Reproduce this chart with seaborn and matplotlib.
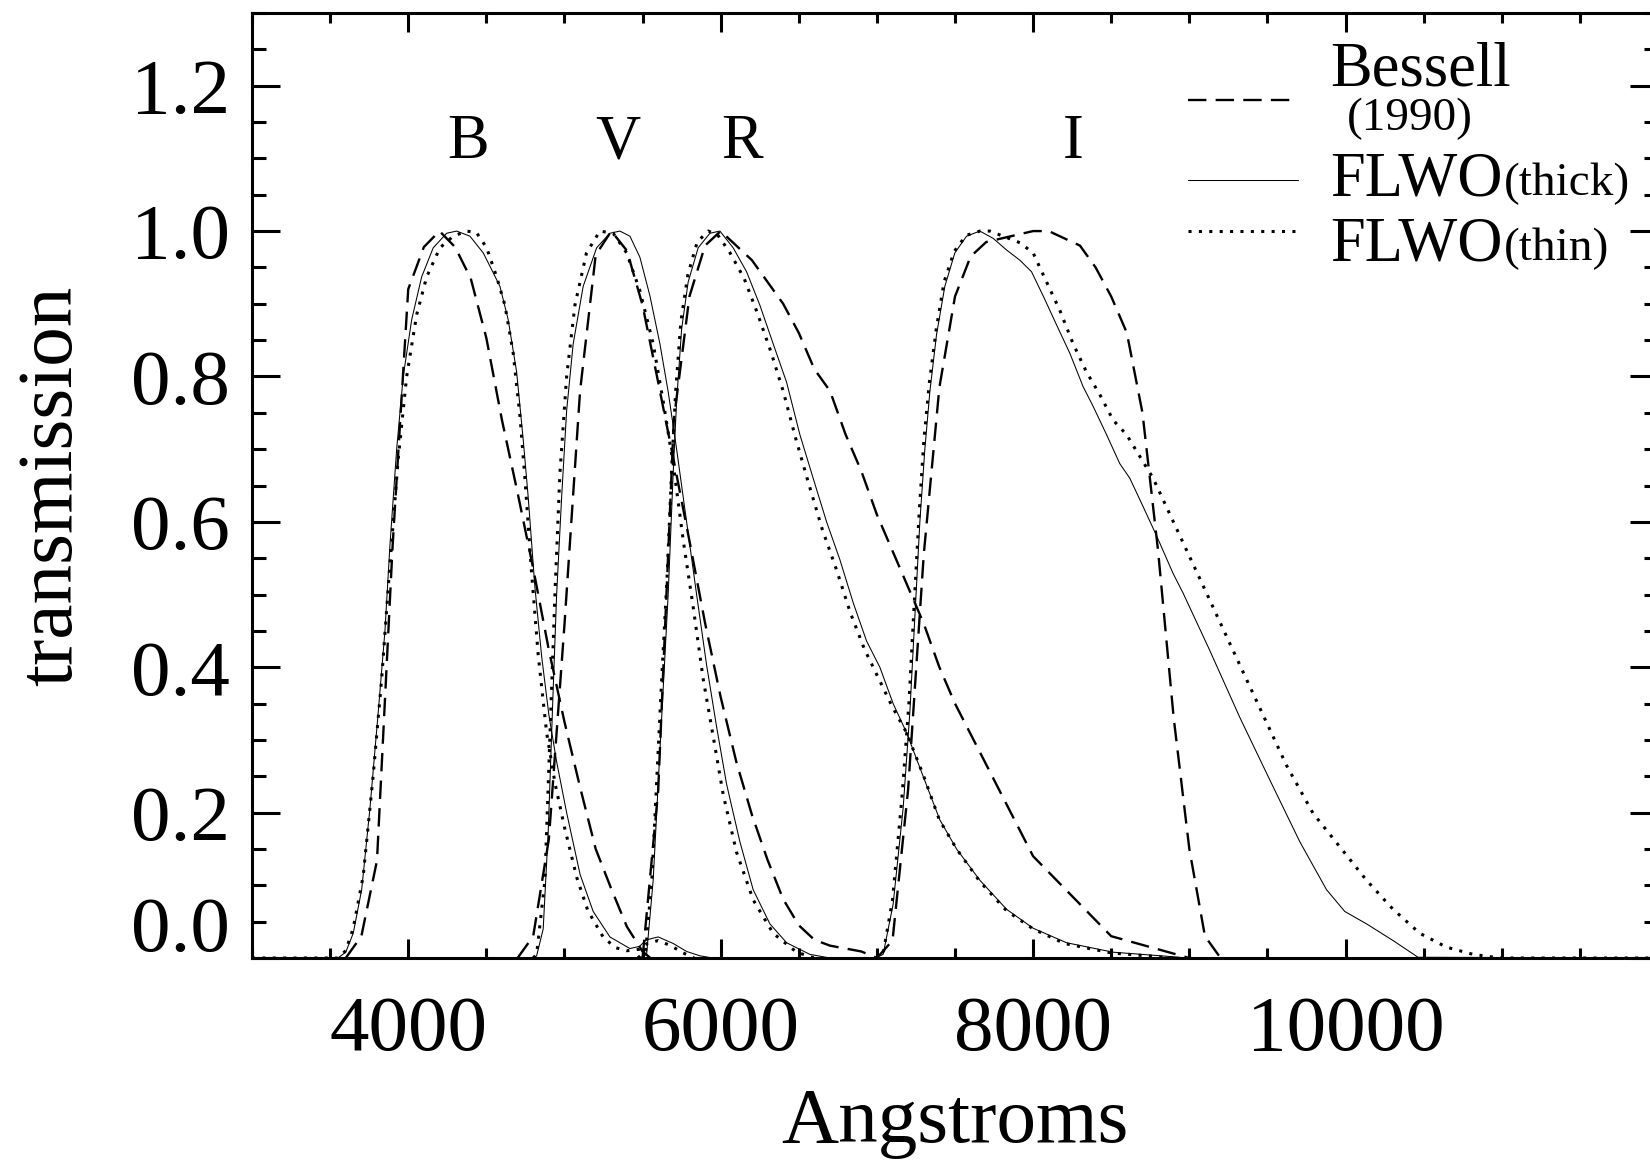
import numpy as np
import pandas as pd
import matplotlib
matplotlib.use("Agg")
import matplotlib.pyplot as plt
import matplotlib.transforms as mtransforms
from matplotlib.lines import Line2D
from matplotlib.ticker import MultipleLocator, FixedLocator, FixedFormatter
import seaborn as sns

# ---------------- data ----------------
# Bessell (1990) passbands (dashed)
bess_B_wl = [3600, 3700, 3800, 3900, 4000, 4100, 4200, 4300, 4400, 4500, 4600, 4700,
             4800, 4900, 5000, 5100, 5200, 5300, 5400, 5500, 5550]
bess_B_tr = [0.0, 0.03, 0.134, 0.567, 0.920, 0.978, 1.0, 0.978, 0.935, 0.853, 0.740, 0.640,
             0.536, 0.424, 0.325, 0.235, 0.150, 0.095, 0.043, 0.009, 0.0]

bess_V_wl = [4700, 4800, 4900, 5000, 5100, 5200, 5300, 5400, 5500, 5600, 5700, 5800,
             5900, 6000, 6100, 6200, 6300, 6400, 6500, 6600, 6700, 6800, 6900, 7000]
bess_V_tr = [0.0, 0.03, 0.163, 0.458, 0.78, 0.967, 1.0, 0.973, 0.898, 0.792, 0.684, 0.574,
             0.461, 0.359, 0.27, 0.197, 0.135, 0.081, 0.045, 0.025, 0.017, 0.013, 0.009, 0.0]

bess_R_wl = [5500, 5600, 5700, 5800, 5900, 6000, 6100, 6200, 6300, 6400, 6500, 6600,
             6700, 6800, 6900, 7000, 7100, 7200, 7300, 7400, 7500, 8000, 8500, 9000]
bess_R_tr = [0.0, 0.23, 0.74, 0.91, 0.98, 1.0, 0.98, 0.96, 0.93, 0.90, 0.86, 0.81,
             0.78, 0.72, 0.67, 0.61, 0.56, 0.51, 0.46, 0.40, 0.35, 0.14, 0.03, 0.0]

bess_I_wl = [7000, 7100, 7200, 7300, 7400, 7500, 7600, 7700, 7800, 7900, 8000, 8100,
             8200, 8300, 8400, 8500, 8600, 8700, 8800, 8900, 9000, 9100, 9200]
bess_I_tr = [0.0, 0.024, 0.232, 0.555, 0.785, 0.910, 0.965, 0.985, 0.990, 0.995, 1.0, 1.0,
             0.990, 0.980, 0.950, 0.910, 0.860, 0.750, 0.560, 0.330, 0.150, 0.030, 0.0]

# FLWO thick-CCD passbands (solid)
thick_B_wl = [3000, 3550, 3600, 3648, 3702, 3755, 3808, 3851, 3883, 3926, 3968, 4022, 4086,
              4160, 4246, 4310, 4395, 4480, 4534, 4587, 4640, 4694, 4736, 4768, 4811, 4854,
              4900, 4950, 5014, 5100, 5184, 5291, 5419, 5480, 5526, 5600, 5696, 5782, 5867, 5950]
thick_B_tr = [0.0, 0.0, 0.008, 0.034, 0.094, 0.206, 0.338, 0.45, 0.568, 0.70, 0.80, 0.878, 0.937,
              0.977, 0.997, 1.0, 0.993, 0.97, 0.947, 0.924, 0.878, 0.806, 0.713, 0.634, 0.51, 0.415,
              0.335, 0.27, 0.20, 0.115, 0.064, 0.029, 0.013, 0.016, 0.025, 0.029, 0.02, 0.009, 0.003, 0.0]

thick_V_wl = [4800, 4822, 4864, 4896, 4928, 4950, 4982, 5014, 5056, 5120, 5206, 5291, 5355,
              5419, 5483, 5547, 5611, 5664, 5718, 5782, 5846, 5910, 5974, 6038, 6123, 6208,
              6315, 6422, 6571, 6700]
thick_V_tr = [0.0, 0.003, 0.04, 0.173, 0.37, 0.50, 0.634, 0.753, 0.845, 0.924, 0.977, 0.997, 1.0,
              0.993, 0.964, 0.911, 0.845, 0.779, 0.70, 0.60, 0.50, 0.403, 0.318, 0.239, 0.16, 0.094,
              0.047, 0.021, 0.005, 0.0]

thick_R_wl = [5480, 5526, 5568, 5600, 5632, 5664, 5696, 5718, 5750, 5792, 5856, 5931, 5995,
              6080, 6166, 6251, 6336, 6422, 6507, 6592, 6678, 6763, 6848, 6934, 7019, 7104,
              7190, 7296, 7403, 7510, 7659, 7830, 8000, 8214, 8512, 8939]
thick_R_tr = [0.0, 0.005, 0.107, 0.239, 0.37, 0.50, 0.667, 0.766, 0.865, 0.93, 0.977, 0.997, 1.0,
              0.977, 0.944, 0.898, 0.845, 0.792, 0.72, 0.66, 0.60, 0.548, 0.489, 0.436, 0.40, 0.35,
              0.31, 0.25, 0.19, 0.15, 0.107, 0.067, 0.041, 0.021, 0.008, 0.001]

thick_I_wl = [6990, 7040, 7104, 7168, 7211, 7243, 7275, 7307, 7339, 7382, 7435, 7499, 7574,
              7659, 7744, 7830, 7915, 7990, 8064, 8150, 8235, 8320, 8384, 8470, 8555, 8619,
              8704, 8790, 8896, 8960, 9131, 9323, 9515, 9707, 9878, 9995, 10134, 10304, 10464, 12000]
thick_I_tr = [0.0, 0.005, 0.074, 0.206, 0.338, 0.469, 0.60, 0.70, 0.779, 0.858, 0.924, 0.97, 0.993,
              1.0, 0.99, 0.974, 0.96, 0.944, 0.911, 0.871, 0.832, 0.786, 0.759, 0.72, 0.68, 0.66,
              0.621, 0.581, 0.529, 0.502, 0.423, 0.331, 0.245, 0.16, 0.094, 0.064, 0.047, 0.024, 0.001, 0.0]

# FLWO thin-CCD passbands (dotted)
thin_B_wl = [3000, 3550, 3600, 3648, 3712, 3776, 3830, 3883, 3936, 3990, 4054, 4118, 4203,
             4288, 4374, 4437, 4502, 4566, 4619, 4672, 4715, 4747, 4790, 4832, 4886, 4940,
             5000, 5080, 5150, 5250, 5330, 5400, 5480, 5530, 5600, 5680, 5760, 5830]
thin_B_tr = [0.0, 0.0, 0.01, 0.041, 0.113, 0.252, 0.384, 0.542, 0.687, 0.80, 0.885, 0.937, 0.977,
             0.993, 1.0, 0.998, 0.977, 0.937, 0.898, 0.832, 0.746, 0.66, 0.529, 0.417, 0.31, 0.24,
             0.18, 0.11, 0.065, 0.028, 0.014, 0.010, 0.012, 0.02, 0.024, 0.017, 0.007, 0.0]

thin_V_wl = [4800, 4822, 4875, 4907, 4939, 4971, 5014, 5067, 5141, 5227, 5312, 5398, 5483,
             5568, 5632, 5696, 5760, 5824, 5888, 5952, 6016, 6101, 6208, 6336, 6486, 6600]
thin_V_tr = [0.0, 0.005, 0.107, 0.305, 0.50, 0.667, 0.80, 0.898, 0.97, 1.0, 0.997, 0.97, 0.918,
             0.845, 0.766, 0.68, 0.575, 0.483, 0.384, 0.305, 0.225, 0.146, 0.08, 0.034, 0.008, 0.0]

thin_R_wl = [5470, 5520, 5560, 5592, 5624, 5656, 5688, 5712, 5745, 5790, 5850, 5920, 5980,
             6060, 6150, 6230, 6320, 6400, 6480, 6560, 6650, 6740, 6830, 6920, 7010, 7100,
             7190, 7300, 7400, 7510, 7660, 7830, 8000, 8200, 8500, 8900]
thin_R_tr = [0.0, 0.01, 0.11, 0.25, 0.39, 0.52, 0.68, 0.78, 0.875, 0.94, 0.985, 1.0, 0.995,
             0.97, 0.935, 0.89, 0.835, 0.78, 0.715, 0.655, 0.59, 0.535, 0.475, 0.425, 0.385, 0.345,
             0.31, 0.25, 0.19, 0.15, 0.105, 0.065, 0.04, 0.02, 0.007, 0.0]

thin_I_wl = [6990, 7040, 7100, 7160, 7205, 7237, 7270, 7300, 7335, 7380, 7430, 7495, 7570,
             7660, 7723, 7808, 7915, 8000, 8086, 8171, 8256, 8342, 8427, 8512, 8598, 8768,
             8939, 9110, 9280, 9451, 9622, 9792, 9963, 10134, 10304, 10475, 10645, 10816, 10987, 12000]
thin_I_tr = [0.0, 0.006, 0.08, 0.22, 0.35, 0.48, 0.61, 0.71, 0.79, 0.865, 0.93, 0.972, 0.994,
             1.0, 1.0, 0.993, 0.984, 0.97, 0.93, 0.891, 0.845, 0.806, 0.775, 0.74, 0.72, 0.66,
             0.581, 0.502, 0.423, 0.344, 0.265, 0.199, 0.153, 0.107, 0.067, 0.034, 0.015, 0.005, 0.0, 0.0]

band_names = ["B", "V", "R", "I"]
band_label_x = [4382, 5342, 6136, 8254]
band_label_y = 1.10

x_tick_values = [4000, 6000, 8000, 10000]
x_tick_labels = ["4000", "6000", "8000", "10000"]
y_tick_values = [0.0, 0.2, 0.4, 0.6, 0.8, 1.0, 1.2]
y_tick_labels = ["0.0", "0.2", "0.4", "0.6", "0.8", "1.0", "1.2"]

# ---------------- styling ----------------
sns.set_theme(style="ticks")
plt.rcParams['font.family'] = ['Liberation Serif', 'DejaVu Serif']
plt.rcParams['axes.linewidth'] = 2.2
plt.rcParams['text.color'] = 'black'
plt.rcParams['axes.labelcolor'] = 'black'
plt.rcParams['xtick.color'] = 'black'
plt.rcParams['ytick.color'] = 'black'
plt.rcParams['axes.edgecolor'] = 'black'

W, H = 1650, 1165
fig = plt.figure(figsize=(W / 100, H / 100), dpi=100, facecolor="white")
ax = fig.add_axes([252 / W, 1 - 958 / H, 1406 / W, 945 / H])
ax.set_facecolor("white")

LW_DASH, LW_SOLID, LW_DOT = 1.7, 0.75, 2.2
DASH = (0, (7.8, 3.9))
DOT = (0, (1, 2.4))

series = [
    (bess_B_wl, bess_B_tr, LW_DASH, DASH),
    (bess_V_wl, bess_V_tr, LW_DASH, DASH),
    (bess_R_wl, bess_R_tr, LW_DASH, DASH),
    (bess_I_wl, bess_I_tr, LW_DASH, DASH),
    (thick_B_wl, thick_B_tr, LW_SOLID, "-"),
    (thick_V_wl, thick_V_tr, LW_SOLID, "-"),
    (thick_R_wl, thick_R_tr, LW_SOLID, "-"),
    (thick_I_wl, thick_I_tr, LW_SOLID, "-"),
    (thin_B_wl, thin_B_tr, LW_DOT, DOT),
    (thin_V_wl, thin_V_tr, LW_DOT, DOT),
    (thin_R_wl, thin_R_tr, LW_DOT, DOT),
    (thin_I_wl, thin_I_tr, LW_DOT, DOT),
]
for wl, tr, lw, ls in series:
    sns.lineplot(x=np.array(wl, float), y=np.array(tr, float), ax=ax, color="black",
                 linewidth=lw, linestyle=ls, estimator=None, sort=False, legend=False)

ax.set_xlim(3000, 12000)
ax.set_ylim(0.0, 1.3)

for s in ax.spines.values():
    s.set_visible(True)
    s.set_linewidth(2.2)
    s.set_color("black")

ax.xaxis.set_major_locator(FixedLocator(x_tick_values))
ax.xaxis.set_major_formatter(FixedFormatter(x_tick_labels))
ax.xaxis.set_minor_locator(MultipleLocator(500))
ax.yaxis.set_major_locator(FixedLocator(y_tick_values))
ax.yaxis.set_major_formatter(FixedFormatter(y_tick_labels))
ax.yaxis.set_minor_locator(MultipleLocator(0.05))

ax.tick_params(which="both", direction="in", top=True, right=True, width=2.2, color="black",
               labelcolor="black")
ax.tick_params(axis="x", which="major", length=13.7, pad=27, labelsize=57)
ax.tick_params(axis="x", which="minor", length=7)
ax.tick_params(axis="y", which="major", length=20, pad=16, labelsize=57)
ax.tick_params(axis="y", which="minor", length=10)

# the 0.0 label sits a little above its tick in the original
lab0 = ax.yaxis.get_major_ticks()[0].label1
lab0.set_transform(lab0.get_transform() +
                   mtransforms.ScaledTranslation(0, 25 / 72, fig.dpi_scale_trans))

ax.set_xlabel("Angstroms", fontsize=57, color="black")
ax.xaxis.set_label_coords(0.5, (958 - 1142) / 945)
ax.xaxis.label.set_va("baseline")
ax.set_ylabel("transmission", fontsize=57, color="black")
ax.yaxis.set_label_coords((71 - 252) / 1406, 0.5)
ax.yaxis.label.set_va("baseline")

for name, bx in zip(band_names, band_label_x):
    ax.text(bx, band_label_y, name, ha="center", va="baseline", fontsize=45, color="black")

# ---------------- custom legend ----------------
def fx(px):
    return px / W

def fy(py):
    return 1 - py / H

fig.add_artist(Line2D([fx(1188), fx(1298)], [fy(100)] * 2, color="black",
                      lw=LW_DASH, linestyle=DASH))
fig.add_artist(Line2D([fx(1188), fx(1298)], [fy(180)] * 2, color="black",
                      lw=LW_SOLID, linestyle="-"))
fig.add_artist(Line2D([fx(1188), fx(1298)], [fy(231)] * 2, color="black",
                      lw=LW_DOT, linestyle=DOT))

fig.text(fx(1330), fy(85), "Bessell", fontsize=45, ha="left", va="baseline", color="black")
fig.text(fx(1347), fy(130), "(1990)", fontsize=34, ha="left", va="baseline", color="black")
t1 = fig.text(fx(1330), fy(195), "FLWO", fontsize=45, ha="left", va="baseline", color="black")
fig.text(fx(1330), fy(260), "FLWO", fontsize=45, ha="left", va="baseline", color="black")

fig.canvas.draw()
r = fig.canvas.get_renderer()
bb1 = t1.get_window_extent(renderer=r)
fig.text((bb1.x1 + 1) / W, fy(195), "(thick)", fontsize=34, ha="left", va="baseline", color="black")
fig.text((bb1.x1 + 1) / W, fy(260), "(thin)", fontsize=34, ha="left", va="baseline", color="black")

fig.savefig("out.png", dpi=100, facecolor="white")
